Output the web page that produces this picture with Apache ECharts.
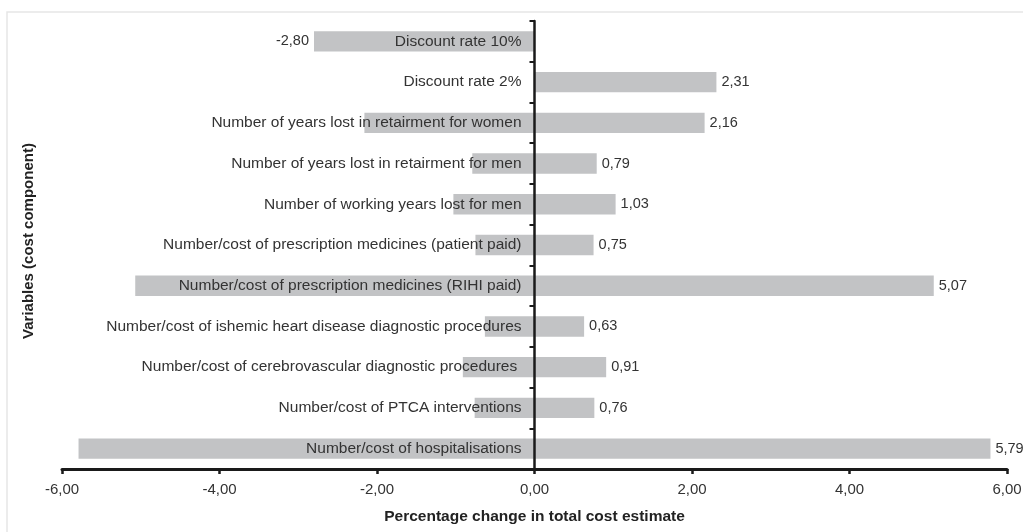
<!DOCTYPE html>
<html>
<head>
<meta charset="utf-8">
<script src="https://cdn.jsdelivr.net/npm/echarts@6/dist/echarts.min.js"></script>
<style>
    html, body { margin: 0; padding: 0; background: #fff; }
    #chart { width: 1023px; height: 532px; }
</style>
</head>
<body>
<div id="chart"></div>
<script>
//数据
let categories = [
    'Discount rate 10%',
    'Discount rate 2%',
    'Number of years lost in retairment for women',
    'Number of years lost in retairment for men',
    'Number of working years lost for men',
    'Number/cost of prescription medicines (patient paid)',
    'Number/cost of prescription medicines (RIHI paid)',
    'Number/cost of ishemic heart disease diagnostic procedures',
    'Number/cost of cerebrovascular diagnostic procedures ',
    'Number/cost of PTCA interventions',
    'Number/cost of hospitalisations'
]
let upData = [null, 2.31, 2.16, 0.79, 1.03, 0.75, 5.07, 0.63, 0.91, 0.76, 5.79]
let downData = [-2.80, null, -2.16, -0.79, -1.03, -0.75, -5.07, -0.63, -0.91, -0.76, -5.79]
let xTicks = { min: -6, max: 6, step: 2 }

let font = '"Liberation Sans", Arial, Helvetica, sans-serif'
let barColor = '#c2c3c5'
let axisColor = '#1a1a1a'
let comma = (v) => Number(v).toFixed(2).replace('.', ',')

//grid 尺寸
let W = 1023
let gridLeft = 62
let gridRight = 16
let gridW = W - gridLeft - gridRight
//纵轴移到 0 处(标签一起移过去)
let zeroShift = gridW * (0 - xTicks.min) / (xTicks.max - xTicks.min)

let myChart = echarts.init(document.getElementById('chart'))
let option = {
    animation: false,
    textStyle: { fontFamily: font },
    grid: {
        left: gridLeft,
        right: gridRight,
        top: 21,
        bottom: 63,
        outerBoundsMode: 'none'
    },
    //外框 + 纵轴标题
    graphic: [
        {
            type: 'rect',
            shape: { x: 7, y: 12, width: 1100, height: 600 },
            style: { fill: 'none', stroke: '#e6e6e6', lineWidth: 1.5 },
            silent: true
        },
        {
            type: 'text',
            x: 29,
            y: 241,
            rotation: Math.PI / 2,
            style: {
                text: 'Variables (cost component)',
                font: 'bold 15px ' + font,
                fill: '#222',
                align: 'center',
                verticalAlign: 'middle'
            }
        }
    ],
    xAxis: {
        type: 'value',
        min: xTicks.min,
        max: xTicks.max,
        interval: xTicks.step,
        name: 'Percentage change in total cost estimate',
        nameLocation: 'middle',
        nameGap: 40,
        nameTextStyle: { fontSize: 15.5, fontWeight: 'bold', color: '#222' },
        splitLine: { show: false },
        axisLine: { show: true, onZero: false, lineStyle: { color: axisColor, width: 3 } },
        axisTick: { show: true, length: 5, lineStyle: { color: axisColor, width: 2.5 } },
        axisLabel: {
            fontSize: 15,
            color: '#333',
            margin: 13,
            formatter: comma
        }
    },
    yAxis: {
        type: 'category',
        data: categories,
        inverse: true,
        z: 10,
        offset: -zeroShift,
        axisLine: { onZero: false, lineStyle: { color: axisColor, width: 2.5 } },
        axisTick: { show: true, length: 5, lineStyle: { color: axisColor, width: 2 } },
        axisLabel: {
            fontSize: 15.5,
            color: '#333',
            margin: 13
        }
    },
    series: [
        {
            name: 'up',
            type: 'bar',
            data: upData,
            barWidth: '50%',
            barGap: '-100%',
            itemStyle: { color: barColor },
            label: {
                show: true,
                position: 'right',
                distance: 5,
                fontSize: 14.5,
                color: '#333',
                formatter: (p) => comma(p.value)
            }
        },
        {
            name: 'down',
            type: 'bar',
            data: downData,
            barWidth: '50%',
            barGap: '-100%',
            itemStyle: { color: barColor },
            label: {
                show: true,
                position: 'left',
                distance: 5,
                fontSize: 14.5,
                color: '#333',
                //只有没有正值的变量才标负值
                formatter: (p) => upData[p.dataIndex] == null ? comma(p.value) : ''
            }
        }
    ]
}
myChart.setOption(option)
window.addEventListener('resize', function () {
    myChart.resize()
})
</script>
</body>
</html>
